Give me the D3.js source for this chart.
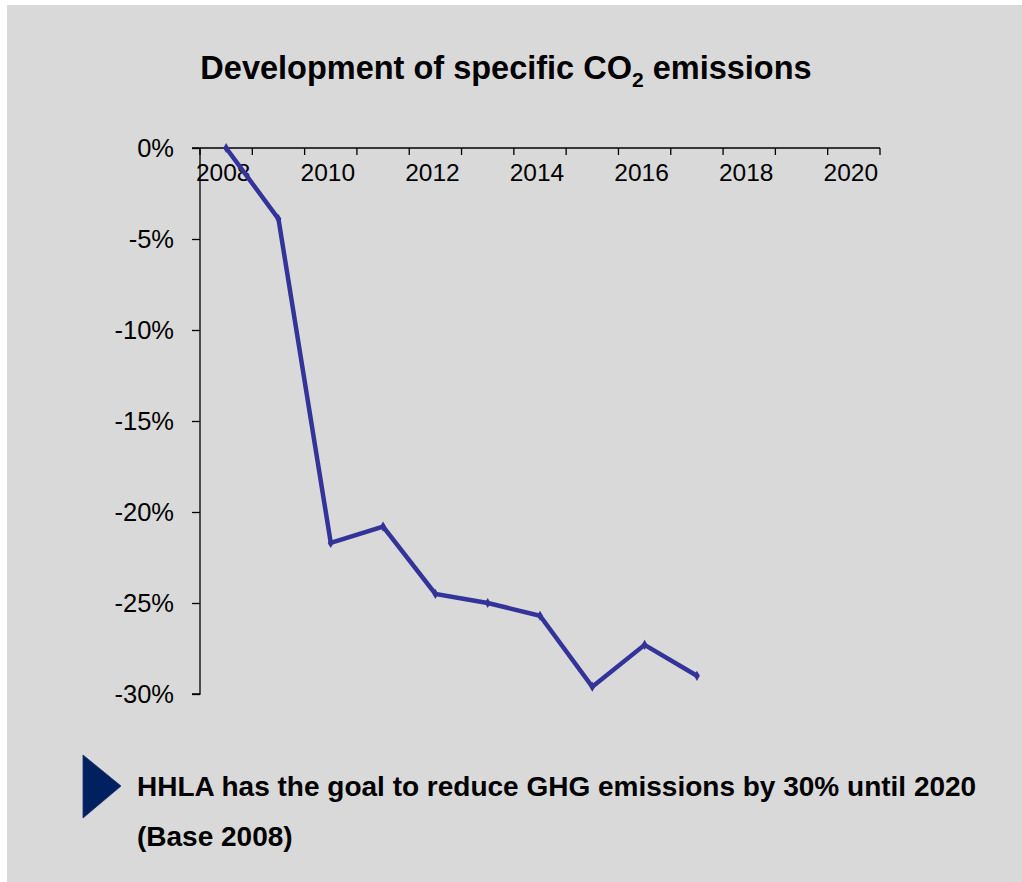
<!DOCTYPE html>
<html>
<head>
<meta charset="utf-8">
<script src="https://cdn.jsdelivr.net/npm/d3@7"></script>
<style>
  body { margin: 0; background: #fff; }
  svg { display: block; font-family: Arial, "Liberation Sans", sans-serif; }
</style>
</head>
<body>
<div id="container"></div>
<script>
/** DATA */
const years = [2008, 2009, 2010, 2011, 2012, 2013, 2014, 2015, 2016, 2017, 2018, 2019, 2020];
const seriesYears = [2008, 2009, 2010, 2011, 2012, 2013, 2014, 2015, 2016, 2017];
const changePct = [0, -3.9, -21.7, -20.8, -24.5, -25.0, -25.7, -29.6, -27.3, -29.0];
const yTicks = [0, -5, -10, -15, -20, -25, -30];
const xLabels = [2008, 2010, 2012, 2014, 2016, 2018, 2020];

/** CONSTANTS */
const width = 1022, height = 882;
const margin = { top: 148, left: 200, right: 142, bottom: 188 };

const svg = d3.select("#container")
  .append("svg")
  .attr("width", width)
  .attr("height", height);

// panel background
svg.append("rect")
  .attr("x", 7).attr("y", 5)
  .attr("width", width - 7).attr("height", height - 5)
  .attr("fill", "#d9d9d9");

// title
const title = svg.append("text")
  .attr("x", 506).attr("y", 79)
  .attr("text-anchor", "middle")
  .attr("font-size", 32.5)
  .attr("font-weight", "bold")
  .attr("fill", "#000");
title.append("tspan").text("Development of specific CO");
title.append("tspan").attr("font-size", 21).attr("dy", 8).text("2");
title.append("tspan").attr("dy", -8).text(" emissions");

// scales
const x = d3.scaleBand()
  .domain(years)
  .range([margin.left, width - margin.right])
  .padding(0);

const y = d3.scaleLinear()
  .domain([0, -30])
  .range([margin.top, height - margin.bottom]);

// x axis on top (at 0%)
const xAxis = svg.append("g")
  .attr("transform", `translate(0,${y(0)})`);
xAxis.append("line")
  .attr("x1", x.range()[0]).attr("x2", x.range()[1])
  .attr("stroke", "#000").attr("stroke-width", 1.3);
xAxis.selectAll("line.tick")
  .data(years.concat([null]))
  .join("line")
  .attr("class", "tick")
  .attr("x1", (d, i) => margin.left + i * x.step())
  .attr("x2", (d, i) => margin.left + i * x.step())
  .attr("y1", 0).attr("y2", 7)
  .attr("stroke", "#000").attr("stroke-width", 1.3);
xAxis.selectAll("text")
  .data(xLabels)
  .join("text")
  .attr("x", d => x(d) + x.bandwidth() / 2 - 3)
  .attr("y", 33)
  .attr("text-anchor", "middle")
  .attr("font-size", 24.5)
  .attr("fill", "#000")
  .text(d => d);

// y axis
const yAxis = svg.append("g")
  .attr("transform", `translate(${margin.left},0)`)
  .call(d3.axisLeft(y)
    .tickValues(yTicks)
    .tickSize(8)
    .tickPadding(18)
    .tickFormat(d => d + "%"));
yAxis.select(".domain")
  .attr("d", `M-8,${y(0)}H0V${y(-30)}H-8`)
  .attr("stroke-width", 1.3);
yAxis.selectAll(".tick line").attr("stroke-width", 1.3);
yAxis.selectAll(".tick text")
  .attr("font-size", 25.5)
  .attr("font-family", "Arial, 'Liberation Sans', sans-serif")
  .attr("fill", "#000");

// line
const points = seriesYears.map((yr, i) => ({ year: yr, value: changePct[i] }));
const line = d3.line()
  .x(d => x(d.year) + x.bandwidth() / 2)
  .y(d => y(d.value));

svg.append("path")
  .datum(points)
  .attr("d", line)
  .attr("fill", "none")
  .attr("stroke", "#333399")
  .attr("stroke-width", 4.5)
  .attr("stroke-linejoin", "miter");

svg.selectAll("path.marker")
  .data(points)
  .join("path")
  .attr("class", "marker")
  .attr("transform", d => `translate(${x(d.year) + x.bandwidth() / 2},${y(d.value)})`)
  .attr("d", d3.symbol(d3.symbolDiamond, 30))
  .attr("fill", "#333399");

// note with arrow
svg.append("path")
  .attr("d", "M83,755L121,786L83,818Z")
  .attr("fill", "#002060")
  .attr("stroke", "#1a2f6b")
  .attr("stroke-width", 0.8);

svg.selectAll("text.note")
  .data(["HHLA has the goal to reduce GHG emissions by 30% until 2020", "(Base 2008)"])
  .join("text")
  .attr("class", "note")
  .attr("x", 137)
  .attr("y", (d, i) => 796 + i * 50)
  .attr("font-size", 28)
  .attr("font-weight", "bold")
  .attr("fill", "#000")
  .text(d => d);
</script>
</body>
</html>
